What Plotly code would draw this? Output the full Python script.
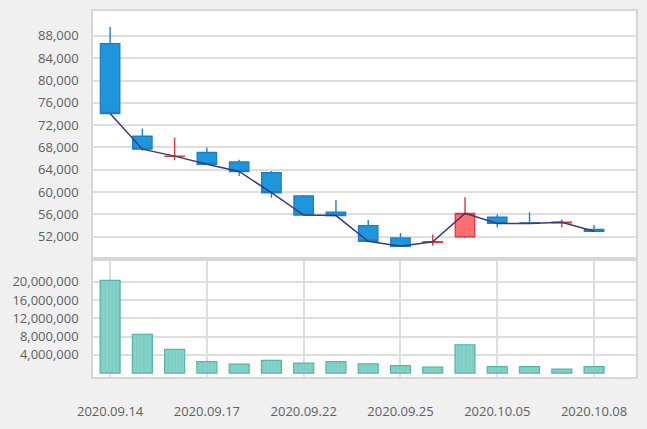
import plotly.graph_objects as go

dates = ["2020.09.14", "2020.09.15", "2020.09.16", "2020.09.17", "2020.09.18",
         "2020.09.21", "2020.09.22", "2020.09.23", "2020.09.24", "2020.09.25",
         "2020.09.28", "2020.09.29", "2020.10.05", "2020.10.06", "2020.10.07",
         "2020.10.08"]
open_ = [86600, 70000, 66400, 67100, 65400, 63500, 59300, 56400, 54000, 51800,
         51000, 52000, 55500, 54500, 54500, 53300]
high = [89600, 71400, 69800, 68000, 65800, 63800, 59500, 58600, 55000, 52700,
        52400, 59100, 56000, 56400, 55100, 54100]
low = [74000, 67400, 65700, 64900, 62900, 59000, 55900, 55800, 51200, 50200,
       50400, 51800, 53700, 54400, 53700, 52900]
close = [74100, 67700, 66450, 65000, 63700, 59900, 55900, 55800, 51200, 50300,
         51100, 56200, 54400, 54400, 54600, 53000]
volume = [20300000, 8500000, 5200000, 2500000, 1950000, 2800000, 2200000, 2500000,
          2000000, 1650000, 1300000, 6200000, 1400000, 1400000, 870000, 1400000]
price_ticks = [52000, 56000, 60000, 64000, 68000, 72000, 76000, 80000, 84000, 88000]
volume_ticks = [4000000, 8000000, 12000000, 16000000, 20000000]
date_ticks = ["2020.09.14", "2020.09.17", "2020.09.22", "2020.09.25", "2020.10.05", "2020.10.08"]

font = dict(family="Open Sans", size=13, color="#5f5f5f")
grid = "#dedede"
border = "#d6d6d6"

fig = go.Figure()
fig.add_trace(go.Candlestick(
    x=dates, open=open_, high=high, low=low, close=close,
    xaxis="x", yaxis="y",
    increasing=dict(fillcolor="#ff6e6e", line=dict(color="#dc3a40", width=1.4)),
    decreasing=dict(fillcolor="#1f96dc", line=dict(color="#1a80c6", width=1.4)),
    whiskerwidth=0, showlegend=False, hoverinfo="skip",
))
fig.add_trace(go.Scatter(
    x=dates, y=close, mode="lines", xaxis="x", yaxis="y",
    line=dict(color="#3c3a7c", width=1.5), showlegend=False, hoverinfo="skip",
))
fig.add_trace(go.Bar(
    x=dates, y=volume, xaxis="x2", yaxis="y2",
    marker=dict(color="#80d0c6", line=dict(color="#56b4a9", width=1.2),
                pattern=dict(shape="|", fgcolor="#67bfb4", bgcolor="#86d3c9",
                             size=3.5, solidity=0.3)),
    showlegend=False, hoverinfo="skip",
))

fig.update_layout(
    width=647, height=429,
    margin=dict(l=93, r=9, t=11, b=50),
    paper_bgcolor="#f0f0f0", plot_bgcolor="#ffffff",
    font=font, boxgap=0.4, boxgroupgap=0, bargap=0.38,
    xaxis=dict(type="category", domain=[0, 1], anchor="y", range=[-0.53, 16.3],
               showgrid=False, showticklabels=False, rangeslider=dict(visible=False),
               showline=True, mirror=True, linecolor=border, linewidth=1.5,
               ticks="", fixedrange=True),
    yaxis=dict(domain=[0.3274, 1], anchor="x", range=[48350, 92450],
               tickvals=price_ticks, tickformat=",d", showgrid=True,
               gridcolor=grid, gridwidth=1.5, zeroline=False,
               showline=True, mirror=True, linecolor=border, linewidth=1.5,
               ticklabelstandoff=10),
    xaxis2=dict(type="category", domain=[0, 1], anchor="y2", range=[-0.53, 16.3],
                matches="x", tickvals=date_ticks, ticktext=date_ticks,
                showgrid=True, gridcolor=grid, gridwidth=1.5,
                showline=True, mirror=True, linecolor=border, linewidth=1.5,
                ticks="", ticklabelstandoff=22),
    yaxis2=dict(domain=[0, 0.3166], anchor="x2", range=[-860000, 24530000],
                tickvals=volume_ticks, tickformat=",d", showgrid=True,
                gridcolor=grid, gridwidth=1.5, zeroline=False,
                showline=True, mirror=True, linecolor=border, linewidth=1.5,
                ticklabelstandoff=10),
)

fig.write_html(
    "out.html",
    config={"displayModeBar": False},
    post_script="document.body.style.margin='0';document.body.style.background='#f0f0f0';",
)
